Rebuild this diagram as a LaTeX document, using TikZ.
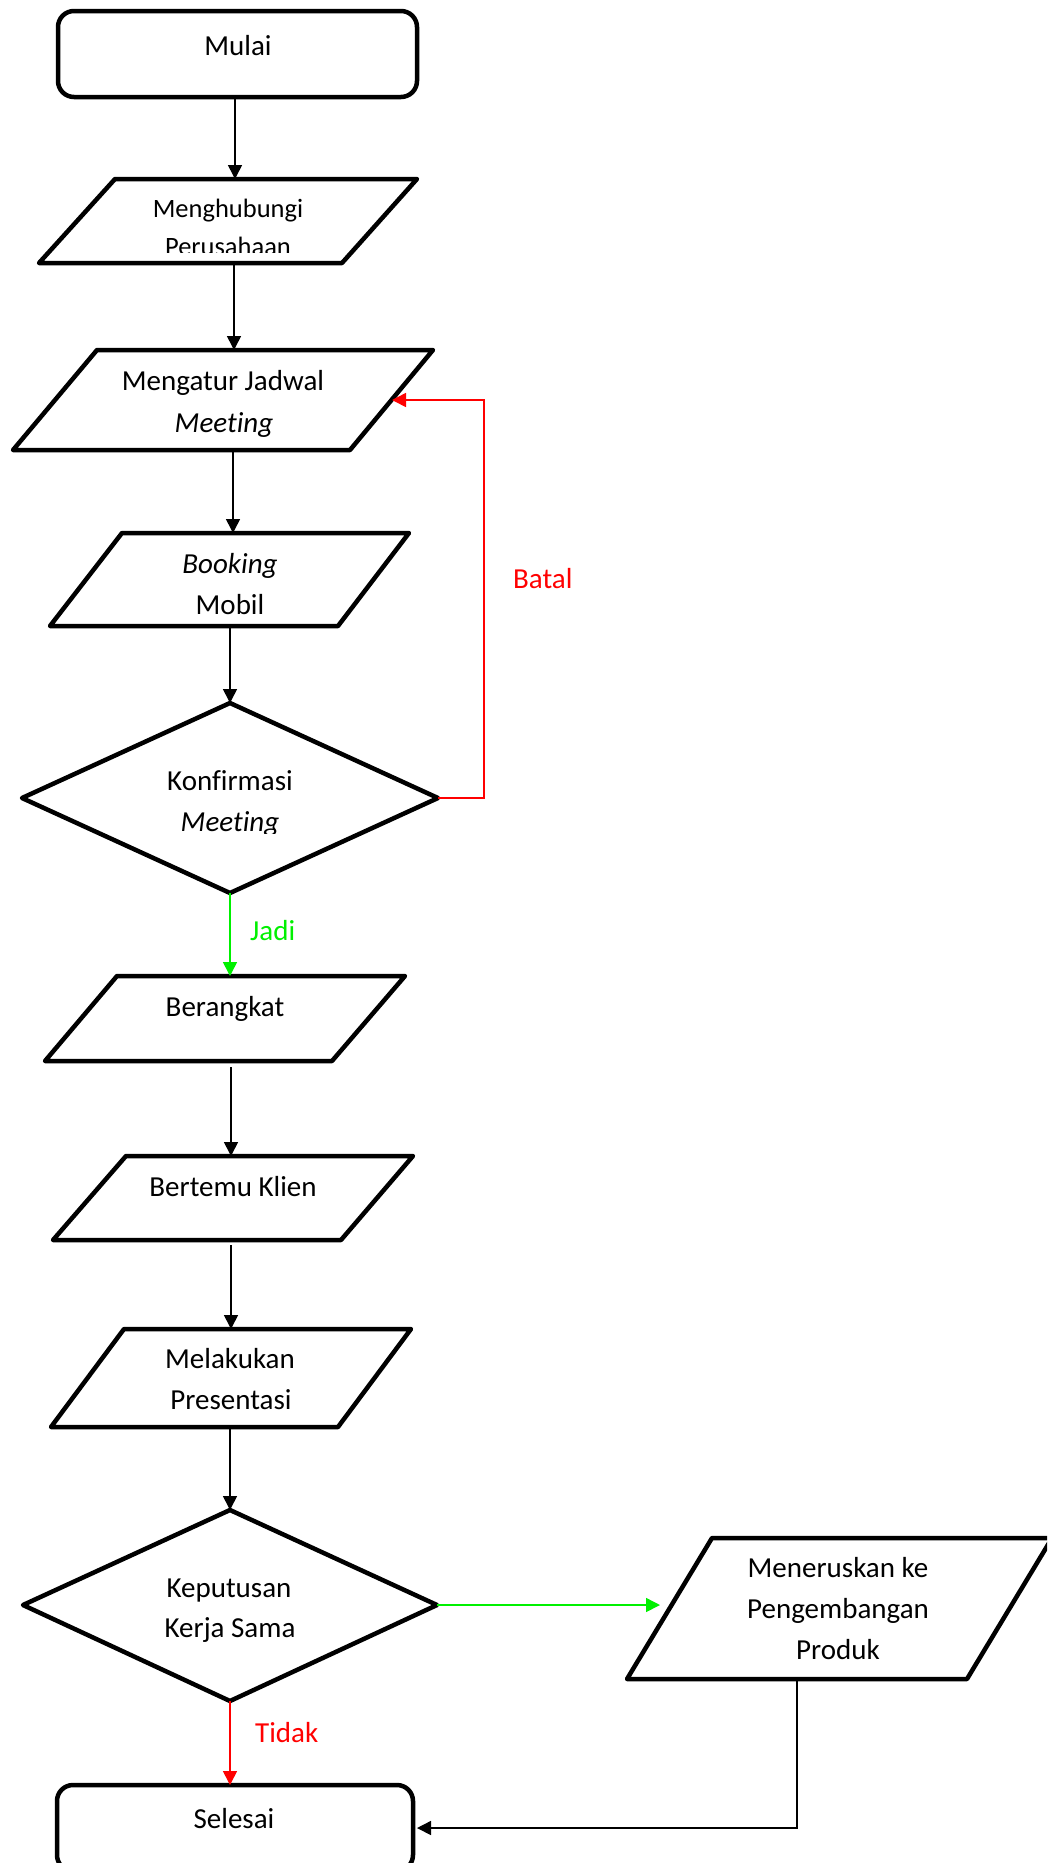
\documentclass[tikz,border=0pt]{standalone}
\usepackage{fontspec}
\setmainfont{Carlito}[RawFeature={-liga}]
\usetikzlibrary{arrows.meta}
\definecolor{okgreen}{RGB}{0,240,0}
\definecolor{nored}{RGB}{255,0,0}
\begin{document}
\begin{tikzpicture}[x=1pt,y=-1pt,
  shp/.style={draw=black,line width=4.5pt,line join=round},
  con/.style={line width=1.6pt,-{Triangle[length=14pt,width=14pt]}},
  txt/.style={anchor=base,inner sep=0pt,font=\fontsize{29}{35}\selectfont},
  smalltxt/.style={anchor=base,inner sep=0pt,font=\fontsize{26.5}{32}\selectfont},
  lbl/.style={anchor=base west,inner sep=0pt,font=\fontsize{29}{35}\selectfont}]
\useasboundingbox (0,0) rectangle (1047,1863);
\fill[white] (0,0) rectangle (1047,1863);
\clip (0,0) rectangle (1047,1863);

% ---------- shapes ----------
% Mulai
\draw[shp,rounded corners=16pt] (58,11) rectangle (417,97);
\coordinate (mulaiB) at (235,97);
% P1 Menghubungi Perusahaan
\draw[shp] (115,179) -- (417,179) -- (342,263) -- (39,263) -- cycle;
\coordinate (p1T) at (235,179);
\coordinate (p1B) at (234,263);
% P2 Mengatur Jadwal Meeting
\draw[shp] (97,350) -- (433,350) -- (350,450) -- (13,450) -- cycle;
\coordinate (p2T) at (234,350);
\coordinate (p2B) at (233,450);
\coordinate (p2R) at (392,400);
% P3 Booking Mobil
\draw[shp] (122,533) -- (409,533) -- (338,626) -- (50,626) -- cycle;
\coordinate (p3T) at (233,533);
\coordinate (p3B) at (230,626);
% D1 Konfirmasi Meeting
\draw[shp] (230,703) -- (438,798) -- (230,893) -- (22,798) -- cycle;
\coordinate (d1T) at (230,703);
\coordinate (d1R) at (438,798);
\coordinate (d1B) at (230,893);
\coordinate (batalX) at (484,798);
% P4 Berangkat
\draw[shp] (117,976) -- (405,976) -- (332,1061) -- (45,1061) -- cycle;
\coordinate (p4T) at (230,976);
\coordinate (p4B) at (231,1067);
% P5 Bertemu Klien
\draw[shp] (126,1156) -- (413,1156) -- (341,1240) -- (53,1240) -- cycle;
\coordinate (p5T) at (231,1156);
\coordinate (p5B) at (231,1245);
% P6 Melakukan Presentasi
\draw[shp] (124,1329) -- (411,1329) -- (338,1427) -- (51,1427) -- cycle;
\coordinate (p6T) at (231,1329);
\coordinate (p6B) at (230,1427);
% D2 Keputusan Kerja Sama
\draw[shp] (230,1510) -- (437,1605) -- (230,1701) -- (23,1605) -- cycle;
\coordinate (d2T) at (230,1510);
\coordinate (d2R) at (437,1605);
\coordinate (d2B) at (230,1701);
% P7 Meneruskan ke Pengembangan Produk
\draw[shp] (712,1538) -- (1052,1538) -- (967,1679) -- (627,1679) -- cycle;
\coordinate (p7L) at (660,1605);
\coordinate (p7B) at (797,1679);
% Selesai
\draw[shp,rounded corners=16pt] (57,1785) rectangle (413,1871);
\coordinate (selT) at (230,1785);
\coordinate (selR) at (417,1828);

% ---------- texts ----------
\node[txt] (tMulai) at (238,55) {Mulai};
\node[smalltxt] (tP1a) at (228,217) {Menghubungi};
\begin{scope}
  \clip (39,179) rectangle (417,252);
  \node[smalltxt] (tP1b) at (228,255) {Perusahaan};
\end{scope}
\node[txt] (tP2a) at (223,390) {Mengatur Jadwal};
\node[txt] (tP2b) at (224,432) {\itshape Meeting};
\node[txt] (tP3a) at (230,573) {\itshape Booking};
\node[txt] (tP3b) at (230,614) {Mobil};
\node[txt] (tD1a) at (230,790) {Konfirmasi};
\begin{scope}
  \clip (22,703) rectangle (438,833);
  \node[txt] (tD1b) at (230,831) {\itshape Meeting};
\end{scope}
\node[txt] (tP4) at (225,1016) {Berangkat};
\node[txt] (tP5) at (233,1196) {Bertemu Klien};
\node[txt] (tP6a) at (230,1368) {Melakukan};
\node[txt] (tP6b) at (231,1409) {Presentasi};
\node[txt] (tD2a) at (229,1597) {Keputusan};
\node[txt] (tD2b) at (230,1637) {Kerja Sama};
\node[txt] (tP7a) at (838,1577) {Meneruskan ke};
\node[txt] (tP7b) at (838,1618) {Pengembangan};
\node[txt] (tP7c) at (838,1659) {Produk};
\node[txt] (tSel) at (234,1828) {Selesai};

\node[lbl,text=nored] (lBatal) at (513,588) {Batal};
\node[lbl,text=okgreen] (lJadi) at (250,940) {Jadi};
\node[lbl,text=nored] (lTidak) at (255,1742) {Tidak};

% ---------- connectors ----------
\draw[con] (mulaiB) -- (p1T);
\draw[con] (p1B) -- (p2T);
\draw[con] (p2B) -- (p3T);
\draw[con] (p3B) -- (d1T);
\draw[con,nored] (d1R) -- (batalX) |- (p2R);
\draw[con,okgreen] (d1B) -- (p4T);
\draw[con] (p4B) -- (p5T);
\draw[con] (p5B) -- (p6T);
\draw[con] (p6B) -- (d2T);
\draw[con,okgreen] (d2R) -- (p7L);
\draw[con,nored] (d2B) -- (selT);
\draw[con] (p7B) |- (selR);
\end{tikzpicture}
\end{document}
